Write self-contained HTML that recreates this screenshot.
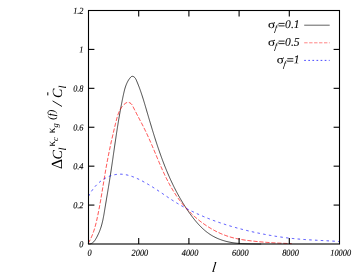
<!DOCTYPE html>
<html><head><meta charset="utf-8"><style>
html,body{margin:0;padding:0;background:#fff;}
svg{display:block;will-change:transform;text-rendering:geometricPrecision;font-family:"Liberation Serif",serif;font-style:italic;}
</style></head><body>
<svg width="354" height="273" viewBox="0 0 354 273">
<rect width="354" height="273" fill="#fff"/>
<g fill="none" stroke-width="0.72">
<polyline stroke="#000" points="88.46,244.00 89.57,243.97 90.57,243.77 91.48,243.45 92.31,243.00 93.05,242.44 93.73,241.80 94.36,241.08 94.93,240.30 95.47,239.48 95.98,238.63 96.47,237.76 96.94,236.89 97.40,236.01 97.84,235.12 98.26,234.23 98.67,233.33 99.07,232.43 99.45,231.52 99.81,230.61 100.15,229.69 100.48,228.77 100.80,227.85 101.09,226.92 101.38,225.98 101.64,225.05 101.90,224.11 102.14,223.17 102.37,222.22 102.59,221.27 102.81,220.32 103.01,219.37 103.20,218.41 103.39,217.45 103.57,216.49 103.74,215.53 103.91,214.57 104.08,213.61 104.24,212.64 104.40,211.68 104.56,210.71 104.72,209.74 104.88,208.78 105.04,207.81 105.20,206.84 105.36,205.88 105.52,204.91 105.68,203.94 105.84,202.98 106.00,202.01 106.16,201.04 106.32,200.07 106.48,199.11 106.64,198.14 106.80,197.17 106.96,196.20 107.13,195.24 107.29,194.27 107.45,193.30 107.61,192.33 107.77,191.37 107.93,190.40 108.09,189.43 108.25,188.46 108.41,187.50 108.56,186.53 108.72,185.56 108.88,184.59 109.04,183.63 109.19,182.66 109.35,181.69 109.50,180.72 109.66,179.76 109.81,178.79 109.96,177.82 110.12,176.85 110.27,175.89 110.42,174.92 110.57,173.95 110.72,172.99 110.86,172.02 111.01,171.05 111.16,170.09 111.30,169.12 111.45,168.15 111.59,167.19 111.73,166.22 111.88,165.25 112.02,164.29 112.16,163.32 112.30,162.36 112.44,161.39 112.58,160.42 112.72,159.46 112.86,158.49 113.00,157.53 113.14,156.56 113.28,155.59 113.42,154.63 113.56,153.66 113.70,152.70 113.84,151.73 113.98,150.76 114.12,149.80 114.25,148.83 114.39,147.87 114.53,146.90 114.67,145.93 114.81,144.97 114.95,144.00 115.09,143.04 115.23,142.07 115.38,141.11 115.52,140.14 115.66,139.17 115.80,138.21 115.95,137.24 116.09,136.28 116.24,135.31 116.38,134.34 116.53,133.38 116.67,132.41 116.82,131.45 116.97,130.48 117.12,129.51 117.27,128.55 117.42,127.58 117.57,126.61 117.73,125.65 117.88,124.68 118.04,123.71 118.19,122.75 118.35,121.78 118.51,120.81 118.67,119.85 118.83,118.88 119.00,117.91 119.16,116.95 119.33,115.98 119.50,115.01 119.66,114.05 119.84,113.08 120.01,112.11 120.18,111.14 120.36,110.17 120.53,109.21 120.71,108.24 120.89,107.27 121.08,106.30 121.26,105.33 121.45,104.37 121.64,103.40 121.83,102.43 122.02,101.46 122.21,100.49 122.41,99.52 122.61,98.55 122.81,97.58 123.01,96.61 123.22,95.64 123.43,94.67 123.64,93.71 123.86,92.74 124.08,91.78 124.32,90.82 124.56,89.86 124.82,88.92 125.09,87.98 125.39,87.05 125.69,86.13 126.02,85.22 126.38,84.32 126.75,83.44 127.16,82.57 127.58,81.72 128.04,80.89 128.53,80.07 129.06,79.27 129.62,78.50 130.21,77.74 130.85,77.03 131.56,76.49 132.38,76.30 133.27,76.49 134.12,76.96 134.84,77.62 135.42,78.40 135.91,79.28 136.33,80.20 136.74,81.14 137.14,82.08 137.52,83.02 137.91,83.95 138.28,84.89 138.64,85.82 139.00,86.75 139.36,87.69 139.70,88.62 140.04,89.56 140.37,90.49 140.70,91.42 141.02,92.35 141.34,93.28 141.65,94.22 141.96,95.15 142.26,96.08 142.56,97.01 142.86,97.94 143.15,98.87 143.44,99.81 143.72,100.74 144.01,101.67 144.29,102.60 144.57,103.53 144.85,104.46 145.12,105.40 145.40,106.33 145.67,107.26 145.94,108.19 146.22,109.13 146.49,110.06 146.76,110.99 147.04,111.93 147.31,112.86 147.58,113.79 147.86,114.73 148.13,115.66 148.41,116.60 148.68,117.54 148.96,118.47 149.24,119.41 149.51,120.34 149.79,121.28 150.07,122.21 150.35,123.15 150.63,124.09 150.91,125.02 151.19,125.96 151.47,126.89 151.75,127.83 152.04,128.77 152.32,129.70 152.61,130.64 152.90,131.57 153.19,132.51 153.48,133.44 153.77,134.38 154.06,135.31 154.35,136.25 154.65,137.18 154.94,138.11 155.24,139.05 155.54,139.98 155.84,140.91 156.14,141.84 156.45,142.78 156.75,143.71 157.06,144.64 157.37,145.57 157.68,146.50 157.99,147.43 158.31,148.35 158.62,149.28 158.94,150.21 159.26,151.14 159.59,152.06 159.91,152.99 160.24,153.91 160.57,154.84 160.90,155.76 161.23,156.68 161.57,157.60 161.91,158.52 162.25,159.44 162.59,160.36 162.93,161.28 163.28,162.20 163.63,163.11 163.99,164.03 164.34,164.94 164.70,165.85 165.06,166.76 165.43,167.67 165.79,168.58 166.16,169.49 166.53,170.40 166.91,171.30 167.29,172.21 167.67,173.11 168.05,174.01 168.44,174.91 168.83,175.81 169.23,176.70 169.62,177.60 170.02,178.49 170.43,179.38 170.83,180.27 171.24,181.16 171.66,182.05 172.08,182.93 172.50,183.82 172.92,184.70 173.35,185.58 173.78,186.45 174.21,187.33 174.65,188.20 175.10,189.07 175.54,189.94 175.99,190.81 176.45,191.68 176.90,192.54 177.37,193.40 177.83,194.26 178.30,195.12 178.78,195.97 179.25,196.83 179.74,197.68 180.22,198.52 180.71,199.37 181.21,200.21 181.71,201.05 182.21,201.89 182.72,202.73 183.23,203.56 183.75,204.39 184.27,205.22 184.79,206.04 185.32,206.87 185.86,207.69 186.40,208.51 186.94,209.32 187.49,210.13 188.05,210.94 188.60,211.75 189.17,212.55 189.74,213.35 190.31,214.15 190.89,214.94 191.47,215.73 192.06,216.52 192.66,217.30 193.26,218.08 193.86,218.86 194.48,219.63 195.09,220.39 195.72,221.15 196.35,221.90 196.99,222.64 197.64,223.38 198.29,224.10 198.96,224.82 199.63,225.54 200.31,226.24 200.99,226.93 201.69,227.61 202.39,228.28 203.11,228.94 203.83,229.59 204.56,230.23 205.30,230.86 206.06,231.47 206.82,232.07 207.59,232.65 208.38,233.23 209.17,233.78 209.98,234.33 210.79,234.86 211.62,235.37 212.46,235.86 213.31,236.34 214.18,236.81 215.05,237.26 215.94,237.69 216.83,238.10 217.73,238.50 218.64,238.88 219.56,239.25 220.49,239.60 221.42,239.93 222.36,240.25 223.30,240.55 224.25,240.84 225.20,241.11 226.16,241.37 227.12,241.60 228.08,241.83 229.04,242.04 230.00,242.23 230.97,242.40 231.93,242.57 232.90,242.72 233.87,242.85 234.84,242.98 235.81,243.09 236.78,243.19 237.75,243.28 238.72,243.36 239.69,243.44 240.66,243.50 241.63,243.56 242.61,243.61 243.58,243.65 244.55,243.69 245.53,243.73 246.50,243.76 247.48,243.79 248.46,243.81 249.43,243.84 250.41,243.86 251.38,243.88 252.36,243.90 253.34,243.92 254.31,243.94 255.29,243.96 256.27,243.97 257.25,243.99 258.22,244.00 259.20,244.00 260.18,244.00 261.16,244.00"/>
<polyline stroke="#f00" stroke-dasharray="4.2,1.8" points="88.12,243.38 88.58,242.62 89.02,241.86 89.45,241.10 89.86,240.32 90.26,239.55 90.65,238.77 91.02,237.98 91.38,237.19 91.73,236.40 92.07,235.60 92.40,234.80 92.71,234.00 93.02,233.19 93.32,232.37 93.60,231.56 93.88,230.74 94.15,229.92 94.40,229.09 94.66,228.26 94.90,227.43 95.14,226.60 95.37,225.76 95.59,224.93 95.81,224.09 96.02,223.25 96.22,222.40 96.42,221.56 96.62,220.71 96.81,219.87 97.00,219.02 97.19,218.17 97.37,217.32 97.55,216.47 97.73,215.62 97.91,214.77 98.08,213.92 98.26,213.07 98.43,212.21 98.60,211.36 98.76,210.51 98.93,209.65 99.09,208.80 99.25,207.95 99.41,207.09 99.57,206.24 99.73,205.38 99.89,204.53 100.04,203.67 100.20,202.81 100.35,201.96 100.50,201.10 100.65,200.24 100.80,199.39 100.95,198.53 101.09,197.67 101.24,196.81 101.39,195.96 101.53,195.10 101.68,194.24 101.82,193.38 101.96,192.52 102.10,191.66 102.25,190.81 102.39,189.95 102.53,189.09 102.67,188.23 102.81,187.37 102.95,186.51 103.09,185.65 103.23,184.79 103.37,183.94 103.51,183.08 103.65,182.22 103.79,181.36 103.93,180.50 104.08,179.64 104.22,178.78 104.36,177.93 104.50,177.07 104.64,176.21 104.79,175.35 104.93,174.49 105.08,173.64 105.22,172.78 105.37,171.92 105.51,171.07 105.66,170.21 105.81,169.35 105.96,168.50 106.11,167.64 106.26,166.79 106.42,165.93 106.57,165.08 106.72,164.22 106.88,163.37 107.04,162.51 107.20,161.66 107.36,160.81 107.52,159.95 107.69,159.10 107.85,158.25 108.02,157.40 108.18,156.55 108.35,155.69 108.52,154.84 108.69,153.99 108.86,153.14 109.03,152.29 109.21,151.44 109.38,150.59 109.56,149.74 109.74,148.89 109.92,148.04 110.10,147.19 110.28,146.34 110.46,145.49 110.64,144.64 110.83,143.79 111.01,142.94 111.20,142.09 111.39,141.25 111.58,140.40 111.77,139.55 111.96,138.70 112.15,137.85 112.35,137.00 112.54,136.15 112.74,135.31 112.93,134.46 113.13,133.61 113.33,132.76 113.53,131.91 113.73,131.06 113.93,130.21 114.13,129.37 114.34,128.52 114.54,127.67 114.75,126.82 114.95,125.97 115.16,125.12 115.37,124.27 115.58,123.42 115.79,122.57 116.00,121.72 116.22,120.87 116.43,120.03 116.65,119.18 116.87,118.33 117.11,117.49 117.35,116.65 117.60,115.82 117.87,115.00 118.15,114.18 118.44,113.37 118.76,112.56 119.09,111.77 119.45,110.99 119.83,110.22 120.24,109.46 120.67,108.72 121.13,107.99 121.62,107.28 122.15,106.58 122.70,105.91 123.30,105.24 123.93,104.60 124.60,103.98 125.31,103.41 126.06,102.92 126.85,102.57 127.67,102.38 128.53,102.41 129.39,102.65 130.21,103.05 130.97,103.59 131.62,104.24 132.13,104.97 132.55,105.74 132.94,106.53 133.33,107.31 133.73,108.10 134.12,108.88 134.52,109.66 134.92,110.43 135.31,111.21 135.71,111.98 136.11,112.76 136.52,113.53 136.92,114.30 137.32,115.07 137.72,115.84 138.12,116.60 138.53,117.37 138.93,118.13 139.33,118.90 139.73,119.67 140.14,120.43 140.54,121.20 140.94,121.96 141.33,122.73 141.73,123.49 142.13,124.26 142.52,125.03 142.92,125.80 143.31,126.57 143.70,127.34 144.08,128.11 144.47,128.88 144.85,129.65 145.23,130.43 145.61,131.21 145.98,131.99 146.36,132.77 146.73,133.55 147.09,134.34 147.46,135.13 147.82,135.92 148.18,136.71 148.54,137.50 148.89,138.29 149.25,139.09 149.60,139.88 149.95,140.68 150.30,141.48 150.65,142.27 150.99,143.07 151.34,143.88 151.68,144.68 152.03,145.48 152.37,146.28 152.71,147.09 153.05,147.89 153.39,148.70 153.73,149.50 154.06,150.31 154.40,151.12 154.74,151.92 155.08,152.73 155.41,153.54 155.75,154.35 156.09,155.15 156.43,155.96 156.76,156.77 157.10,157.57 157.44,158.38 157.78,159.19 158.12,159.99 158.46,160.80 158.80,161.61 159.15,162.41 159.49,163.21 159.84,164.02 160.18,164.82 160.53,165.62 160.88,166.42 161.23,167.22 161.58,168.02 161.94,168.82 162.29,169.62 162.65,170.41 163.01,171.21 163.38,172.00 163.74,172.79 164.11,173.58 164.48,174.37 164.85,175.16 165.23,175.94 165.60,176.72 165.99,177.51 166.37,178.29 166.76,179.06 167.15,179.84 167.54,180.61 167.94,181.39 168.34,182.15 168.74,182.92 169.15,183.69 169.56,184.45 169.98,185.21 170.40,185.97 170.82,186.72 171.25,187.47 171.68,188.22 172.12,188.97 172.56,189.71 173.00,190.45 173.45,191.19 173.91,191.93 174.37,192.66 174.83,193.39 175.30,194.11 175.78,194.84 176.26,195.55 176.74,196.27 177.24,196.98 177.73,197.69 178.24,198.39 178.74,199.09 179.26,199.79 179.78,200.49 180.30,201.17 180.83,201.86 181.37,202.54 181.91,203.22 182.45,203.89 183.00,204.56 183.56,205.23 184.12,205.89 184.69,206.55 185.26,207.20 185.84,207.85 186.42,208.49 187.01,209.13 187.60,209.77 188.20,210.40 188.80,211.02 189.41,211.64 190.02,212.26 190.64,212.87 191.26,213.48 191.89,214.08 192.52,214.68 193.16,215.27 193.80,215.86 194.45,216.44 195.10,217.02 195.76,217.59 196.42,218.15 197.08,218.72 197.75,219.27 198.43,219.82 199.11,220.37 199.79,220.91 200.48,221.44 201.17,221.97 201.87,222.49 202.57,223.01 203.28,223.52 203.99,224.03 204.70,224.53 205.42,225.02 206.14,225.51 206.87,225.99 207.60,226.46 208.34,226.93 209.08,227.40 209.82,227.85 210.57,228.30 211.32,228.75 212.08,229.18 212.84,229.61 213.61,230.04 214.37,230.45 215.14,230.86 215.92,231.26 216.70,231.66 217.48,232.04 218.27,232.42 219.05,232.79 219.85,233.15 220.64,233.51 221.44,233.85 222.24,234.19 223.05,234.52 223.86,234.84 224.67,235.15 225.48,235.45 226.30,235.74 227.12,236.03 227.94,236.30 228.77,236.57 229.60,236.83 230.43,237.07 231.26,237.31 232.10,237.54 232.93,237.76 233.77,237.97 234.62,238.17 235.46,238.36 236.31,238.55 237.16,238.73 238.01,238.90 238.86,239.07 239.71,239.23 240.57,239.38 241.42,239.53 242.28,239.67 243.14,239.81 244.00,239.94 244.86,240.07 245.72,240.19 246.58,240.31 247.45,240.43 248.31,240.54 249.17,240.65 250.04,240.75 250.90,240.86 251.77,240.96 252.63,241.05 253.50,241.15 254.36,241.24 255.23,241.34 256.09,241.43 256.96,241.51 257.83,241.60 258.69,241.68 259.56,241.76 260.42,241.84 261.29,241.92 262.16,242.00 263.02,242.07 263.89,242.14 264.76,242.21 265.62,242.28 266.49,242.35 267.36,242.41 268.23,242.47 269.09,242.54 269.96,242.60 270.83,242.65 271.70,242.71 272.56,242.76 273.43,242.82 274.30,242.87 275.17,242.92 276.03,242.97 276.90,243.01 277.77,243.06 278.64,243.10 279.51,243.14 280.38,243.19 281.24,243.23 282.11,243.26 282.98,243.30 283.85,243.34 284.72,243.37 285.59,243.40 286.46,243.44 287.33,243.47 288.20,243.50 289.06,243.52 289.93,243.55 290.80,243.58 291.67,243.60"/>
<polyline stroke="#00f" stroke-dasharray="2.5,3.3" points="88.58,196.34 88.82,195.86 89.07,195.39 89.32,194.91 89.58,194.44 89.84,193.97 90.11,193.50 90.39,193.03 90.67,192.56 90.96,192.10 91.26,191.63 91.56,191.17 91.87,190.72 92.18,190.26 92.50,189.81 92.83,189.36 93.16,188.91 93.50,188.47 93.84,188.03 94.19,187.60 94.55,187.17 94.91,186.74 95.28,186.32 95.65,185.90 96.03,185.49 96.41,185.08 96.80,184.68 97.20,184.28 97.59,183.89 98.00,183.50 98.41,183.13 98.83,182.75 99.25,182.38 99.67,182.02 100.10,181.67 100.54,181.32 100.98,180.98 101.42,180.65 101.87,180.33 102.33,180.01 102.79,179.70 103.25,179.40 103.72,179.10 104.19,178.81 104.66,178.53 105.14,178.26 105.63,178.00 106.11,177.74 106.60,177.49 107.10,177.25 107.59,177.02 108.09,176.80 108.59,176.58 109.10,176.38 109.60,176.18 110.11,175.99 110.63,175.81 111.14,175.64 111.66,175.48 112.18,175.33 112.70,175.18 113.22,175.05 113.74,174.92 114.27,174.81 114.79,174.70 115.32,174.60 115.85,174.52 116.38,174.44 116.91,174.37 117.44,174.31 117.97,174.27 118.51,174.23 119.04,174.20 119.57,174.19 120.10,174.18 120.64,174.18 121.17,174.20 121.70,174.22 122.24,174.26 122.77,174.30 123.30,174.36 123.83,174.42 124.36,174.49 124.89,174.57 125.42,174.66 125.95,174.76 126.48,174.87 127.01,174.98 127.54,175.10 128.07,175.23 128.60,175.37 129.12,175.51 129.65,175.67 130.17,175.82 130.70,175.99 131.22,176.16 131.74,176.34 132.26,176.52 132.78,176.71 133.30,176.91 133.82,177.11 134.34,177.31 134.86,177.52 135.37,177.74 135.89,177.96 136.40,178.18 136.91,178.41 137.42,178.64 137.93,178.88 138.44,179.12 138.94,179.36 139.45,179.61 139.95,179.86 140.45,180.11 140.95,180.37 141.45,180.62 141.95,180.88 142.44,181.14 142.94,181.41 143.43,181.67 143.92,181.94 144.41,182.21 144.89,182.47 145.38,182.74 145.86,183.02 146.34,183.29 146.82,183.56 147.30,183.84 147.78,184.12 148.25,184.40 148.73,184.68 149.20,184.96 149.67,185.24 150.14,185.52 150.61,185.81 151.08,186.10 151.55,186.38 152.02,186.67 152.48,186.96 152.95,187.26 153.41,187.55 153.87,187.85 154.33,188.14 154.80,188.44 155.26,188.74 155.72,189.04 156.17,189.34 156.63,189.64 157.09,189.94 157.55,190.25 158.00,190.55 158.46,190.86 158.92,191.16 159.37,191.47 159.83,191.78 160.28,192.09 160.74,192.39 161.19,192.70 161.64,193.01 162.10,193.32 162.55,193.63 163.00,193.94 163.46,194.25 163.91,194.56 164.37,194.87 164.82,195.18 165.27,195.49 165.73,195.80 166.18,196.11 166.63,196.42 167.09,196.73 167.54,197.04 168.00,197.34 168.46,197.65 168.91,197.96 169.37,198.26 169.82,198.56 170.28,198.87 170.74,199.17 171.20,199.47 171.66,199.77 172.12,200.07 172.58,200.37 173.04,200.66 173.50,200.96 173.97,201.25 174.43,201.54 174.89,201.83 175.36,202.12 175.83,202.41 176.29,202.70 176.76,202.98 177.23,203.26 177.70,203.55 178.17,203.83 178.64,204.11 179.11,204.38 179.59,204.66 180.06,204.93 180.54,205.21 181.01,205.48 181.49,205.75 181.96,206.02 182.44,206.29 182.92,206.55 183.40,206.82 183.88,207.08 184.36,207.35 184.84,207.61 185.32,207.87 185.80,208.13 186.29,208.38 186.77,208.64 187.26,208.89 187.74,209.15 188.23,209.40 188.71,209.65 189.20,209.90 189.69,210.14 190.18,210.39 190.67,210.64 191.16,210.88 191.65,211.12 192.14,211.36 192.63,211.60 193.13,211.84 193.62,212.08 194.11,212.32 194.61,212.55 195.10,212.79 195.60,213.02 196.10,213.25 196.59,213.48 197.09,213.71 197.59,213.94 198.09,214.16 198.59,214.39 199.09,214.61 199.59,214.83 200.09,215.05 200.59,215.27 201.09,215.49 201.60,215.71 202.10,215.93 202.61,216.14 203.11,216.36 203.62,216.57 204.12,216.78 204.63,216.99 205.13,217.20 205.64,217.41 206.15,217.62 206.66,217.82 207.17,218.03 207.68,218.23 208.19,218.43 208.70,218.63 209.21,218.83 209.72,219.03 210.23,219.23 210.74,219.43 211.26,219.62 211.77,219.82 212.28,220.01 212.80,220.20 213.31,220.40 213.83,220.59 214.35,220.77 214.86,220.96 215.38,221.15 215.89,221.34 216.41,221.52 216.93,221.70 217.45,221.89 217.97,222.07 218.49,222.25 219.01,222.43 219.53,222.61 220.05,222.78 220.57,222.96 221.09,223.13 221.61,223.31 222.13,223.48 222.65,223.65 223.18,223.83 223.70,224.00 224.22,224.16 224.75,224.33 225.27,224.50 225.80,224.67 226.32,224.83 226.85,224.99 227.37,225.16 227.90,225.32 228.42,225.48 228.95,225.64 229.48,225.80 230.00,225.96 230.53,226.12 231.06,226.27 231.59,226.43 232.11,226.58 232.64,226.74 233.17,226.89 233.70,227.04 234.23,227.19 234.76,227.34 235.29,227.49 235.82,227.64 236.35,227.78 236.88,227.93 237.41,228.08 237.94,228.22 238.47,228.36 239.00,228.51 239.54,228.65 240.07,228.79 240.60,228.93 241.13,229.07 241.66,229.21 242.20,229.34 242.73,229.48 243.26,229.62 243.80,229.75 244.33,229.89 244.86,230.02 245.40,230.15 245.93,230.28 246.47,230.41 247.00,230.54 247.53,230.67 248.07,230.80 248.60,230.93 249.14,231.05 249.67,231.18 250.21,231.30 250.74,231.43 251.28,231.55 251.82,231.67 252.35,231.80 252.89,231.92 253.42,232.04 253.96,232.16 254.49,232.28 255.03,232.39 255.57,232.51 256.10,232.63 256.64,232.74 257.18,232.86 257.71,232.97 258.25,233.08 258.79,233.19 259.33,233.31 259.86,233.42 260.40,233.53 260.94,233.63 261.48,233.74 262.02,233.85 262.55,233.96 263.09,234.06 263.63,234.17 264.17,234.27 264.71,234.37 265.25,234.47 265.79,234.58 266.32,234.68 266.86,234.77 267.40,234.87 267.94,234.97 268.48,235.07 269.02,235.16 269.56,235.26 270.10,235.35 270.64,235.45 271.18,235.54 271.72,235.63 272.26,235.72 272.80,235.81 273.35,235.90 273.89,235.99 274.43,236.08 274.97,236.16 275.51,236.25 276.05,236.33 276.59,236.42 277.13,236.50 277.68,236.58 278.22,236.66 278.76,236.74 279.30,236.82 279.85,236.90 280.39,236.98 280.93,237.06 281.47,237.13 282.02,237.21 282.56,237.28 283.10,237.36 283.65,237.43 284.19,237.50 284.73,237.57 285.28,237.64 285.82,237.71 286.37,237.78 286.91,237.84 287.46,237.91 288.00,237.97 288.54,238.04 289.09,238.10 289.63,238.16 290.18,238.22 290.72,238.28 291.27,238.34 291.82,238.40 292.36,238.46 292.91,238.52 293.45,238.57 294.00,238.63 294.55,238.68 295.09,238.74 295.64,238.79 296.19,238.84 296.73,238.89 297.28,238.94 297.83,238.99 298.37,239.03 298.92,239.08 299.47,239.13 300.02,239.17 300.56,239.22 301.11,239.26 301.66,239.30 302.21,239.34 302.75,239.38 303.30,239.42 303.85,239.46 304.40,239.50 304.95,239.54 305.50,239.58 306.05,239.62 306.59,239.65 307.14,239.69 307.69,239.73 308.24,239.76 308.79,239.79 309.34,239.83 309.89,239.86 310.44,239.90 310.99,239.93 311.53,239.96 312.08,239.99 312.63,240.02 313.18,240.06 313.73,240.09 314.28,240.12 314.83,240.15 315.38,240.18 315.93,240.21 316.48,240.24 317.03,240.27 317.58,240.29 318.13,240.32 318.67,240.35 319.22,240.38 319.77,240.41 320.32,240.44 320.87,240.47 321.42,240.50 321.97,240.52 322.52,240.55 323.07,240.58 323.62,240.61 324.16,240.64 324.71,240.67 325.26,240.70 325.81,240.73 326.36,240.75 326.91,240.78 327.46,240.81 328.00,240.84 328.55,240.87 329.10,240.90 329.65,240.93 330.20,240.96 330.74,240.99 331.29,241.03 331.84,241.06 332.39,241.09 332.93,241.12 333.48,241.15 334.03,241.19 334.58,241.22 335.12,241.26 335.67,241.29 336.22,241.33 336.76,241.36 337.31,241.40 337.85,241.43 338.40,241.47 338.95,241.51 339.49,241.55"/>
</g>
<g stroke="#000" stroke-width="1.1" fill="none">
<rect x="88.5" y="10.5" width="251.0" height="233.5"/>
<line x1="138.70" y1="244.0" x2="138.70" y2="238.1"/><line x1="138.70" y1="10.5" x2="138.70" y2="16.4"/><line x1="188.90" y1="244.0" x2="188.90" y2="238.1"/><line x1="188.90" y1="10.5" x2="188.90" y2="16.4"/><line x1="239.10" y1="244.0" x2="239.10" y2="238.1"/><line x1="239.10" y1="10.5" x2="239.10" y2="16.4"/><line x1="289.30" y1="244.0" x2="289.30" y2="238.1"/><line x1="289.30" y1="10.5" x2="289.30" y2="16.4"/><line x1="88.5" y1="205.08" x2="94.4" y2="205.08"/><line x1="339.5" y1="205.08" x2="333.6" y2="205.08"/><line x1="88.5" y1="166.17" x2="94.4" y2="166.17"/><line x1="339.5" y1="166.17" x2="333.6" y2="166.17"/><line x1="88.5" y1="127.25" x2="94.4" y2="127.25"/><line x1="339.5" y1="127.25" x2="333.6" y2="127.25"/><line x1="88.5" y1="88.33" x2="94.4" y2="88.33"/><line x1="339.5" y1="88.33" x2="333.6" y2="88.33"/><line x1="88.5" y1="49.42" x2="94.4" y2="49.42"/><line x1="339.5" y1="49.42" x2="333.6" y2="49.42"/>
</g>
<g font-size="8.3" fill="#000" stroke="#000" stroke-width="0.12"><text transform="translate(89.70,255.8) scale(1,1.1) rotate(0.03)" text-anchor="middle">0</text><text transform="translate(139.90,255.8) scale(1,1.1) rotate(0.03)" text-anchor="middle">2000</text><text transform="translate(190.10,255.8) scale(1,1.1) rotate(0.03)" text-anchor="middle">4000</text><text transform="translate(240.30,255.8) scale(1,1.1) rotate(0.03)" text-anchor="middle">6000</text><text transform="translate(290.50,255.8) scale(1,1.1) rotate(0.03)" text-anchor="middle">8000</text><text transform="translate(340.70,255.8) scale(1,1.1) rotate(0.03)" text-anchor="middle">10000</text><text transform="translate(83.5,247.20) scale(1,1.1) rotate(0.03)" text-anchor="end">0</text><text transform="translate(83.5,208.28) scale(1,1.1) rotate(0.03)" text-anchor="end">0.2</text><text transform="translate(83.5,169.37) scale(1,1.1) rotate(0.03)" text-anchor="end">0.4</text><text transform="translate(83.5,130.45) scale(1,1.1) rotate(0.03)" text-anchor="end">0.6</text><text transform="translate(83.5,91.53) scale(1,1.1) rotate(0.03)" text-anchor="end">0.8</text><text transform="translate(83.5,52.62) scale(1,1.1) rotate(0.03)" text-anchor="end">1</text><text transform="translate(83.5,13.70) scale(1,1.1) rotate(0.03)" text-anchor="end">1.2</text></g>
<g fill="#000" stroke="#000" stroke-width="0.08"><text transform="translate(268.00,28.0) scale(1.15,1) rotate(0.03)" font-size="11.6" font-style="normal">σ</text><text transform="translate(274.30,31.2) skewX(-8)" font-size="9.2" stroke="none">f</text><path d="M278.60,23.40h6.0M278.60,25.90h6.0" stroke="#000" stroke-width="0.85" fill="none"/><text transform="translate(285.10,28.0) rotate(0.03)" font-size="11.6">0.1</text><text transform="translate(268.00,45.7) scale(1.15,1) rotate(0.03)" font-size="11.6" font-style="normal">σ</text><text transform="translate(274.30,48.900000000000006) skewX(-8)" font-size="9.2" stroke="none">f</text><path d="M278.60,41.10h6.0M278.60,43.60h6.0" stroke="#000" stroke-width="0.85" fill="none"/><text transform="translate(285.10,45.7) rotate(0.03)" font-size="11.6">0.5</text><text transform="translate(276.70,63.3) scale(1.15,1) rotate(0.03)" font-size="11.6" font-style="normal">σ</text><text transform="translate(283.00,66.5) skewX(-8)" font-size="9.2" stroke="none">f</text><path d="M287.30,58.70h6.0M287.30,61.20h6.0" stroke="#000" stroke-width="0.85" fill="none"/><text transform="translate(293.80,63.3) rotate(0.03)" font-size="11.6">1</text></g>
<g fill="none" stroke-width="0.72">
<line x1="304.2" y1="25.2" x2="329.7" y2="25.2" stroke="#000" stroke-width="0.62"/>
<line x1="304.2" y1="42.8" x2="329.7" y2="42.8" stroke="#f00" stroke-width="0.9" stroke-opacity="0.55" stroke-dasharray="3.4,1.55"/>
<line x1="304.2" y1="60.4" x2="329.7" y2="60.4" stroke="#00f" stroke-dasharray="1.7,2.4"/>
</g>
<text transform="translate(211.6,271.6) skewX(-7)" font-size="14.5">l</text>
<g transform="translate(62.2,168.4) rotate(-90)" fill="#000">
<text x="-0.7" y="0" font-size="15.5" font-style="normal">Δ</text>
<text x="9.0" y="0" font-size="14">C</text>
<text x="18.0" y="3.4" font-size="10.6">l</text>
<text x="22.0" y="-7.0" font-size="11.3" font-style="normal">κ</text>
<text x="27.5" y="-4.2" font-size="8.5">c</text>
<text x="35.2" y="-7.0" font-size="11.3" font-style="normal">κ</text>
<text x="40.9" y="-4.2" font-size="8.5">g</text>
<text x="48.7" y="-7.0" font-size="10.6">(f)</text>
<line x1="61.9" y1="-0.2" x2="67.5" y2="-9.6" stroke="#000" stroke-width="0.9"/>
<text x="70.3" y="0" font-size="14">C</text>
<text x="79.8" y="3.5" font-size="10.6">l</text>
<line x1="73.0" y1="-14.4" x2="76.1" y2="-14.4" stroke="#000" stroke-width="1.0"/>
</g>
</svg>
</body></html>
